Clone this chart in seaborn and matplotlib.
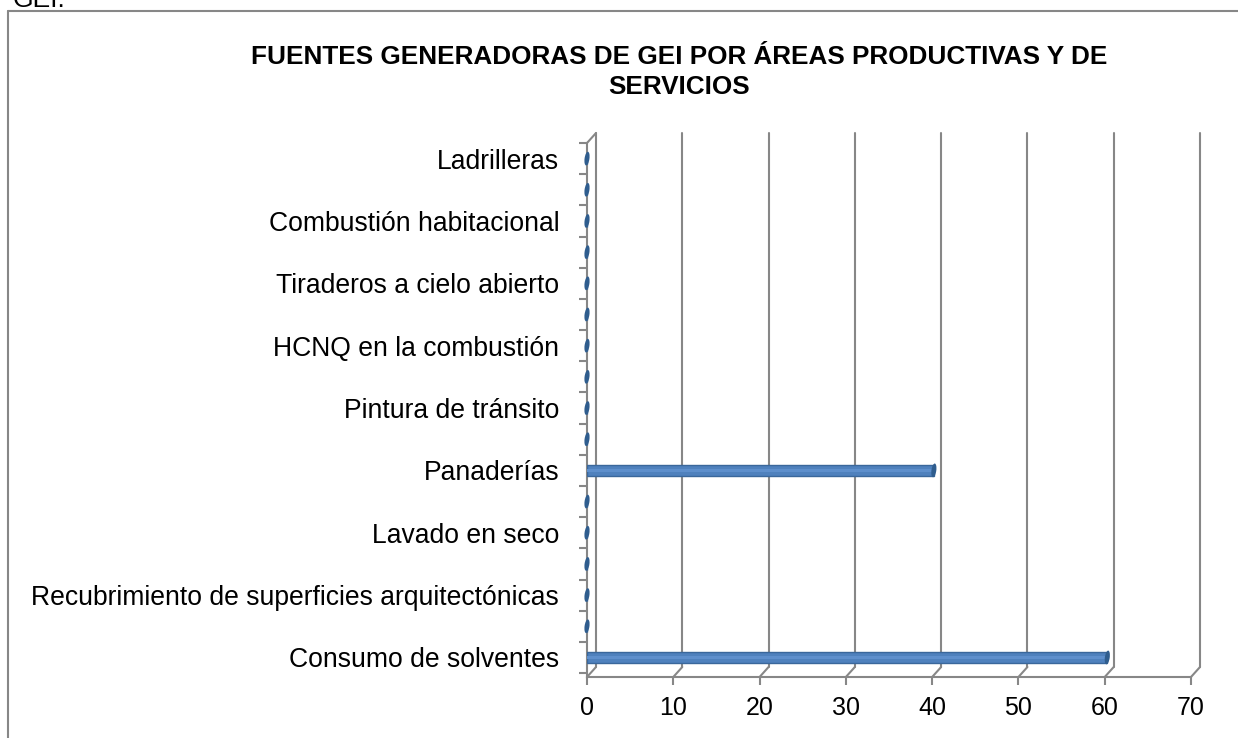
import numpy as np
import pandas as pd
import seaborn as sns
import matplotlib.pyplot as plt
from matplotlib.path import Path
from matplotlib.lines import Line2D
from matplotlib.transforms import Affine2D, ScaledTranslation, blended_transform_factory

# datos (de abajo hacia arriba; las vacias no muestran etiqueta)
categorias = ["Consumo de solventes", "", "Recubrimiento de superficies arquitectónicas", "",
              "Lavado en seco", "", "Panaderías", "", "Pintura de tránsito", "",
              "HCNQ en la combustión", "", "Tiraderos a cielo abierto", "",
              "Combustión habitacional", "", "Ladrilleras"]
valores = [60.3, 0, 0, 0, 0, 0, 40.2, 0, 0, 0, 0, 0, 0, 0, 0, 0, 0]
ticks_x = [0, 10, 20, 30, 40, 50, 60, 70]
titulo = "FUENTES GENERADORAS DE GEI POR ÁREAS PRODUCTIVAS Y DE\nSERVICIOS"


def main():
    sns.set_style("white")
    plt.rcParams['font.family'] = ['Liberation Sans', 'DejaVu Sans']
    plt.rcParams['text.color'] = 'black'
    plt.rcParams['xtick.labelcolor'] = 'black'
    plt.rcParams['ytick.labelcolor'] = 'black'
    gris = "#878787"
    W, H = 1238, 738

    fig = plt.figure(figsize=(W / 100, H / 100), dpi=100)
    ax = fig.add_axes([587 / W, 61 / H, 604 / W, 534 / H])

    df = pd.DataFrame({"pos": np.arange(len(categorias)), "valor": valores})
    sns.barplot(data=df, x="valor", y="pos", orient="h", native_scale=True, width=0.36,
                color="#4F81BD", saturation=1, edgecolor="#3A679B", linewidth=1, ax=ax, zorder=3)
    # brillo del cilindro
    sns.barplot(data=df, x="valor", y="pos", orient="h", native_scale=True, width=0.12,
                color="#5E8FCC", saturation=1, linewidth=0, ax=ax, zorder=3.5)
    # tapas del cilindro
    elipse = Path.unit_circle().transformed(Affine2D().scale(0.35, 1).rotate_deg(-8))
    sns.scatterplot(data=df, x="valor", y="pos", marker=elipse, s=100, color="#2F5D8E",
                    edgecolor="none", legend=False, ax=ax, zorder=4, clip_on=False)

    ax.set_xlim(0, 70)
    ax.set_ylim(-0.627, 16.31)
    ax.set_xticks(ticks_x)
    ax.set_xticklabels([str(t) for t in ticks_x], fontsize=18)
    ax.set_yticks(df["pos"])
    ax.set_yticklabels(categorias, fontsize=19.1)
    ax.set_yticks(np.arange(-0.5, len(categorias), 1), minor=True)
    ax.tick_params(axis="y", which="major", length=0, pad=20)
    ax.tick_params(axis="y", which="minor", length=6, width=1.5, color=gris, left=True)
    ax.tick_params(axis="x", length=6, width=1.5, color=gris, pad=8, bottom=True)
    ax.set_xlabel("")
    ax.set_ylabel("")
    for s in ["top", "right"]:
        ax.spines[s].set_visible(False)
    for s in ["left", "bottom"]:
        ax.spines[s].set_color(gris)
        ax.spines[s].set_linewidth(1.5)

    # lineas de cuadricula con efecto 3D
    fig.canvas.draw()
    blend = blended_transform_factory(ax.transData, ax.transAxes)
    desplaza = ScaledTranslation(9 / 100, 10 / 100, fig.dpi_scale_trans)
    for t in ticks_x:
        ax.add_line(Line2D([t, t], [0, 1], transform=blend + desplaza, color=gris, lw=1.5,
                           clip_on=False, zorder=1))
        x0, y0 = blend.transform((t, 0))
        fig.add_artist(Line2D([x0, x0 + 9], [y0, y0 + 10], transform=None, color=gris, lw=1.5))
    x0, y0 = blend.transform((0, 1))
    fig.add_artist(Line2D([x0, x0 + 9], [y0, y0 + 10], transform=None, color=gris, lw=1.5))

    fig.text(679 / W, 1 - 72 / H, titulo, ha="center", va="center", fontsize=18.8,
             fontweight="bold", linespacing=1.3)
    fig.text(13 / W, 1 - 7 / H, "GEI.", ha="left", va="baseline", fontsize=19)

    # marco exterior
    fig.add_artist(Line2D([8 / W, 8 / W], [0, 1 - 11 / H], color=gris, lw=1.5))
    fig.add_artist(Line2D([8 / W, 1], [1 - 11 / H, 1 - 11 / H], color=gris, lw=1.5))

    fig.savefig("out.png", dpi=100)


if __name__ == "__main__":
    main()
